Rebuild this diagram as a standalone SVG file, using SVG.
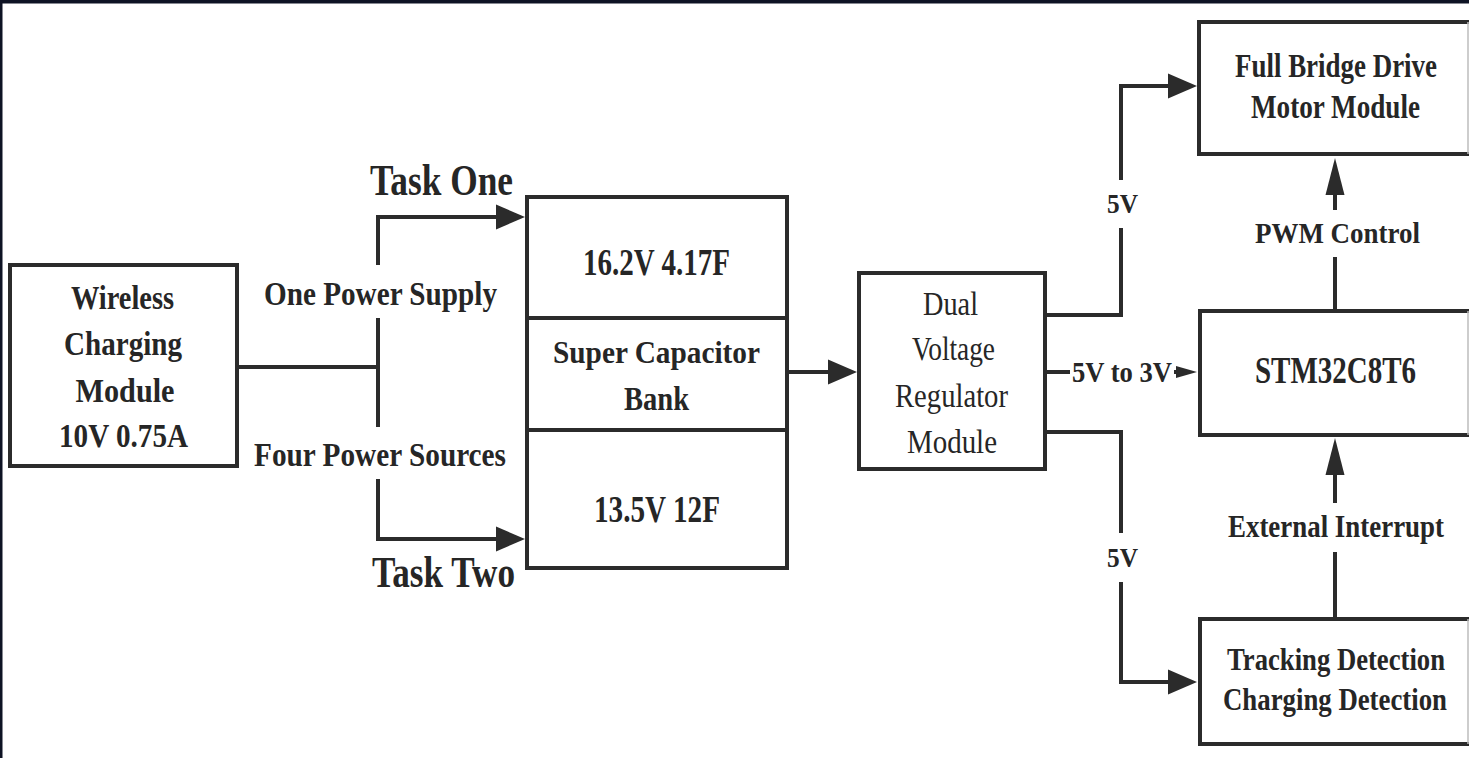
<svg xmlns="http://www.w3.org/2000/svg" width="1469" height="758" viewBox="0 0 1469 758">
<defs>
<style>
.box{fill:#fff;stroke:#2b2b2b;stroke-width:4}
.ln{fill:none;stroke:#2b2b2b;stroke-width:4}
.b{font-family:"Liberation Serif","Times New Roman",serif;font-weight:bold;fill:#262626}
.r{font-family:"Liberation Serif","Times New Roman",serif;fill:#262626}
.c{text-anchor:middle}
</style>
<marker id="ah" viewBox="0 0 30 26" markerWidth="30" markerHeight="26" refX="1" refY="13" orient="auto" markerUnits="userSpaceOnUse"><path d="M0,0.5 L29,13 L0,25.5 z" fill="#2b2b2b"/></marker>
<marker id="av" viewBox="0 0 38 20" markerWidth="38" markerHeight="20" refX="1" refY="10" orient="auto" markerUnits="userSpaceOnUse"><path d="M0,0.5 L37,10 L0,19.5 z" fill="#2b2b2b"/></marker>
<marker id="as" viewBox="0 0 22 13" markerWidth="22" markerHeight="13" refX="1" refY="6.5" orient="auto" markerUnits="userSpaceOnUse"><path d="M0,0.5 L21,6.5 L0,12.5 z" fill="#2b2b2b"/></marker>
</defs>
<rect x="0" y="0" width="1469" height="758" fill="#fff"/>
<rect x="0" y="0" width="1469" height="3.5" fill="#0e1324"/>
<rect x="0" y="0" width="2.5" height="758" fill="#0e1324"/>

<g id="connectors">
<path class="ln" d="M237,367 H378 M378,318 V427"/>
<path class="ln" d="M378,265 V217 H497" marker-end="url(#ah)"/>
<path class="ln" d="M378,479 V539 H497" marker-end="url(#ah)"/>
<path class="ln" d="M787,372 H829" marker-end="url(#ah)"/>
<path class="ln" d="M1045,315 H1121 V228"/>
<path class="ln" d="M1121,180 V86 H1169" marker-end="url(#ah)"/>
<path class="ln" d="M1045,372 H1070"/>
<path class="ln" d="M1174,372 H1177" marker-end="url(#as)"/>
<path class="ln" d="M1045,432 H1121 V533"/>
<path class="ln" d="M1121,582 V682 H1169" marker-end="url(#ah)"/>
<path class="ln" d="M1335,311 V257"/>
<path class="ln" d="M1335,210 V194" marker-end="url(#av)"/>
<path class="ln" d="M1335,619 V552"/>
<path class="ln" d="M1335,503 V474" marker-end="url(#av)"/>
<text class="b" x="370" y="195" font-size="45" textLength="143" lengthAdjust="spacingAndGlyphs">Task One</text>
<text class="b" x="372" y="587" font-size="45" textLength="143" lengthAdjust="spacingAndGlyphs">Task Two</text>
<text class="b" x="264" y="305" font-size="34" textLength="233" lengthAdjust="spacingAndGlyphs">One Power Supply</text>
<text class="b" x="254" y="466" font-size="34" textLength="252" lengthAdjust="spacingAndGlyphs">Four Power Sources</text>
<text class="b" x="1072" y="382" font-size="30" textLength="100" lengthAdjust="spacingAndGlyphs">5V to 3V</text>
<text class="b" x="1107" y="213" font-size="28" textLength="31" lengthAdjust="spacingAndGlyphs">5V</text>
<text class="b" x="1107" y="567" font-size="28" textLength="31" lengthAdjust="spacingAndGlyphs">5V</text>
<text class="b c" x="1337.5" y="243" font-size="30" textLength="165" lengthAdjust="spacingAndGlyphs">PWM Control</text>
<text class="b c" x="1336" y="537" font-size="31" textLength="216" lengthAdjust="spacingAndGlyphs">External Interrupt</text>
</g>

<g id="wireless">
<rect class="box" x="10" y="265" width="227" height="201"/>
<text class="b" x="71" y="309" font-size="34" textLength="103" lengthAdjust="spacingAndGlyphs">Wireless</text>
<text class="b" x="64" y="355" font-size="34" textLength="118" lengthAdjust="spacingAndGlyphs">Charging</text>
<text class="b" x="75.5" y="402" font-size="34" textLength="99" lengthAdjust="spacingAndGlyphs">Module</text>
<text class="b" x="59" y="447" font-size="34" textLength="129" lengthAdjust="spacingAndGlyphs">10V 0.75A</text>
</g>

<g id="supercap">
<rect class="box" x="527" y="197" width="260" height="371"/>
<path class="ln" d="M527,318 H787 M527,430 H787"/>
<text class="b" x="583" y="275" font-size="37" textLength="147" lengthAdjust="spacingAndGlyphs">16.2V 4.17F</text>
<text class="b" x="553" y="363" font-size="32" textLength="207" lengthAdjust="spacingAndGlyphs">Super Capacitor</text>
<text class="b" x="624" y="410" font-size="33" textLength="65" lengthAdjust="spacingAndGlyphs">Bank</text>
<text class="b" x="594" y="522" font-size="37" textLength="126" lengthAdjust="spacingAndGlyphs">13.5V 12F</text>
</g>

<g id="regulator">
<rect class="box" x="859" y="273" width="186" height="196"/>
<text class="r" x="923" y="315" font-size="33" textLength="55" lengthAdjust="spacingAndGlyphs">Dual</text>
<text class="r" x="912" y="360" font-size="33" textLength="83" lengthAdjust="spacingAndGlyphs">Voltage</text>
<text class="r" x="895" y="407" font-size="33" textLength="113" lengthAdjust="spacingAndGlyphs">Regulator</text>
<text class="r" x="907" y="453" font-size="33" textLength="90" lengthAdjust="spacingAndGlyphs">Module</text>
</g>

<g id="fullbridge">
<rect class="box" x="1199" y="22" width="275" height="132"/>
<text class="b c" x="1336" y="77" font-size="33" textLength="202" lengthAdjust="spacingAndGlyphs">Full Bridge Drive</text>
<text class="b c" x="1335.5" y="118" font-size="33" textLength="169" lengthAdjust="spacingAndGlyphs">Motor Module</text>
</g>

<g id="stm32">
<rect class="box" x="1200" y="311" width="275" height="124"/>
<text class="b c" x="1335.5" y="383" font-size="37" textLength="161" lengthAdjust="spacingAndGlyphs">STM32C8T6</text>
</g>

<g id="detection">
<rect class="box" x="1200" y="619" width="275" height="125"/>
<text class="b c" x="1336" y="670" font-size="31" textLength="218" lengthAdjust="spacingAndGlyphs">Tracking Detection</text>
<text class="b c" x="1335" y="710" font-size="31" textLength="224" lengthAdjust="spacingAndGlyphs">Charging Detection</text>
</g>
<path d="M1468,22 V154 M1468,311 V435 M1468,619 V744" stroke="#bdbdbd" stroke-width="1.5" fill="none"/>
</svg>
